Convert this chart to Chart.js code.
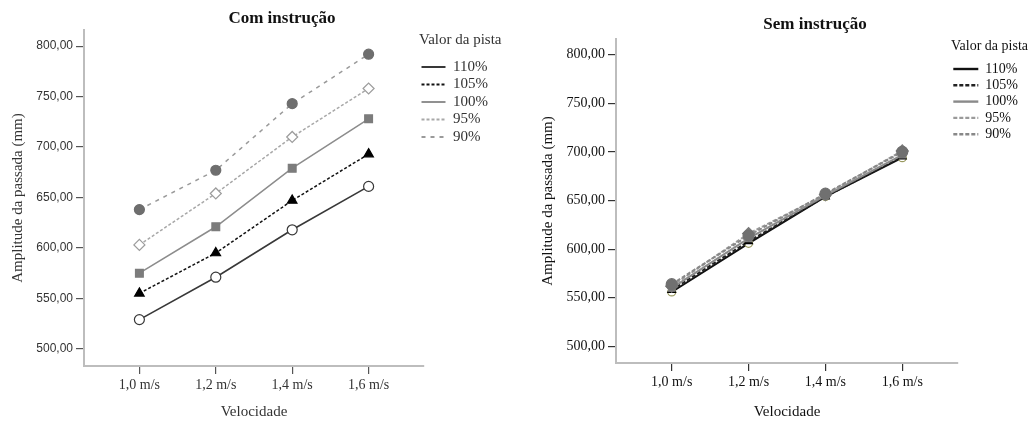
<!DOCTYPE html>
<html lang="pt">
<head>
<meta charset="utf-8">
<title>Amplitude da passada</title>
<script src="https://cdn.jsdelivr.net/npm/chart.js@4.4.1/dist/chart.umd.min.js"></script>
<style>
  html, body { margin: 0; padding: 0; background: #fff; }
  #wrap { position: relative; width: 1034px; height: 421px; overflow: hidden; }
  canvas { position: absolute; top: 0; }
  #comInstrucao { left: 0; }
  #semInstrucao { left: 520px; }
</style>
</head>
<body>
<div id="wrap">
  <canvas id="comInstrucao" width="520" height="421"></canvas>
  <canvas id="semInstrucao" width="514" height="421"></canvas>
</div>
<script>
var velocidades = [1.0, 1.2, 1.4, 1.6];
var categorias = ['1,0 m/s', '1,2 m/s', '1,4 m/s', '1,6 m/s'];
var pistas = ['110%', '105%', '100%', '95%', '90%'];
var marcasEixoY = [500, 550, 600, 650, 700, 750, 800];

// Com instrução (mm)
var com110 = [529, 571, 618, 661];
var com105 = [555, 595, 647, 693];
var com100 = [575, 621, 679, 728];
var com95 = [603, 654, 710, 758];
var com90 = [638, 677, 743, 792];

// Sem instrução (mm)
var sem110 = [556, 606, 654, 694];
var sem105 = [558, 608, 654, 695];
var sem100 = [560, 611, 655, 697];
var sem95 = [562, 616, 656, 701];
var sem90 = [564, 614, 657, 700];

var serif = "'Liberation Serif', 'Times New Roman', serif";
var sans = "'Liberation Sans', Arial, sans-serif";
Chart.defaults.font.family = serif;

var estilosCom = [
  { cor: '#383838', larg: 1.6, traco: [], marca: 'circle', raio: 5, fundo: '#fff', borda: '#383838' },
  { cor: '#111111', larg: 1.5, traco: [3, 2], marca: 'triangle', raio: 5.5, fundo: '#000', borda: '#000' },
  { cor: '#8c8c8c', larg: 1.5, traco: [], marca: 'rect', raio: 5.5, fundo: '#7c7c7c', borda: '#7c7c7c' },
  { cor: '#a8a8a8', larg: 1.5, traco: [3, 2], marca: 'rectRot', raio: 5.5, fundo: '#fff', borda: '#9c9c9c' },
  { cor: '#9a9a9a', larg: 1.5, traco: [4, 5], marca: 'circle', raio: 5, fundo: '#6e6e6e', borda: '#6e6e6e' }
];

var estilosSem = [
  { cor: '#111111', larg: 2, traco: [], marca: 'circle', raio: 4, fundo: '#fff', borda: '#9a9a60' },
  { cor: '#222222', larg: 2, traco: [4, 2], marca: 'triangle', raio: 4.5, fundo: '#000', borda: '#000' },
  { cor: '#8a8a8a', larg: 2, traco: [], marca: 'rect', raio: 4.5, fundo: '#808080', borda: '#808080' },
  { cor: '#9a9a9a', larg: 2, traco: [4, 2], marca: 'rectRot', raio: 6, fundo: '#7a7a7a', borda: '#7a7a7a' },
  { cor: '#888888', larg: 2, traco: [4, 2], marca: 'circle', raio: 5.5, fundo: '#707070', borda: '#707070' }
];

function pontos(valores) {
  return velocidades.map(function (v, i) { return { x: v, y: valores[i] }; });
}

function formatarMm(v) {
  return Number(v).toFixed(2).replace('.', ',');
}

// SPSS puts the title a bit right of the plot centre and lets the legend overlap the axis end
var ajusteSPSS = {
  id: 'ajusteSPSS',
  afterLayout: function (chart, args, opts) {
    var area = chart.chartArea;
    var t = chart.titleBlock;
    var meio = (area.left + area.right) / 2 + opts.tituloDx;
    var w = t.right - t.left;
    t.left = meio - w / 2;
    t.right = meio + w / 2;
    var lg = chart.legend;
    lg.left = area.right + opts.legendaDx;
    lg.right = chart.width;
    lg.width = lg.right - lg.left;
  }
};

function criarGrafico(id, p) {
  var eixoComum = function (extra) {
    return Object.assign({
      grid: { drawOnChartArea: false, drawTicks: true, tickLength: 8, color: p.corMarca, lineWidth: 1.2 },
      border: { display: true, color: '#bdbdbd', width: 2 }
    }, extra);
  };

  return new Chart(document.getElementById(id), {
    type: 'line',
    data: {
      datasets: p.series.map(function (valores, i) {
        var e = p.estilos[i];
        return {
          label: pistas[i],
          data: pontos(valores),
          borderColor: e.cor,
          borderWidth: e.larg,
          borderDash: e.traco,
          pointStyle: e.marca,
          pointRadius: e.raio,
          pointBackgroundColor: e.fundo,
          pointBorderColor: e.borda,
          pointBorderWidth: 1.2,
          tension: 0,
          fill: false,
          order: p.series.length - i
        };
      })
    },
    plugins: [ajusteSPSS],
    options: {
      responsive: false,
      animation: false,
      layout: { padding: { left: 0, right: p.direita, top: 0, bottom: 0 } },
      plugins: {
        ajusteSPSS: { tituloDx: 28, legendaDx: p.legendaDx },
        tooltip: { enabled: false },
        title: {
          display: true,
          text: p.titulo,
          color: '#111',
          font: { family: serif, size: 17, weight: 'bold' },
          padding: p.tituloPad
        },
        legend: {
          position: 'right',
          align: 'start',
          fullSize: false,
          maxWidth: 60,
          title: {
            display: true,
            text: 'Valor da pista',
            position: 'start',
            color: p.corTexto,
            font: { family: serif, size: p.legTitulo },
            padding: p.legPad
          },
          labels: {
            usePointStyle: true,
            pointStyleWidth: p.linhaLeg,
            padding: p.legEsp,
            color: p.corTexto,
            font: { family: serif, size: p.legFonte },
            generateLabels: function (chart) {
              return chart.data.datasets.map(function (ds, i) {
                return {
                  text: ds.label,
                  datasetIndex: i,
                  pointStyle: 'line',
                  strokeStyle: ds.borderColor,
                  fillStyle: ds.borderColor,
                  lineWidth: ds.borderWidth + 0.4,
                  lineDash: ds.borderDash,
                  fontColor: p.corTexto,
                  hidden: false
                };
              });
            }
          }
        }
      },
      scales: {
        x: eixoComum({
          type: 'linear',
          min: 0.855,
          max: 1.745,
          afterBuildTicks: function (s) {
            s.ticks = velocidades.map(function (v) { return { value: v }; });
          },
          afterFit: function (s) { s.height = p.alturaX; },
          ticks: {
            autoSkip: false,
            maxRotation: 0,
            padding: 3,
            color: p.corTexto,
            font: { family: serif, size: 14 },
            callback: function (v, i) { return categorias[i]; }
          },
          title: {
            display: true,
            text: 'Velocidade',
            color: p.corTexto,
            font: { family: serif, size: 15 },
            padding: { top: 0, bottom: 0 }
          }
        }),
        y: eixoComum({
          min: 483,
          max: 816,
          afterBuildTicks: function (s) {
            s.ticks = marcasEixoY.map(function (v) { return { value: v }; });
          },
          afterFit: function (s) { s.width = p.larguraY; },
          ticks: {
            padding: 3,
            color: p.corTexto,
            font: p.fonteY,
            callback: formatarMm
          },
          title: {
            display: true,
            text: 'Amplitude da passada (mm)',
            color: p.corTexto,
            font: { family: serif, size: 15 },
            padding: { top: p.yTituloPad, bottom: 0 }
          }
        })
      }
    }
  });
}

criarGrafico('comInstrucao', {
  titulo: 'Com instrução',
  series: [com110, com105, com100, com95, com90],
  estilos: estilosCom,
  direita: 36,
  legendaDx: -5,
  tituloPad: { top: 8.8, bottom: 0.8 },
  corTexto: '#333',
  corMarca: '#555',
  legTitulo: 15,
  legFonte: 15,
  legPad: { top: 2.5, bottom: 6.5 },
  legEsp: 2.5,
  linhaLeg: 24,
  alturaX: 55,
  larguraY: 84,
  yTituloPad: 9,
  fonteY: { family: sans, size: 12 }
});

criarGrafico('semInstrucao', {
  titulo: 'Sem instrução',
  series: [sem110, sem105, sem100, sem95, sem90],
  estilos: estilosSem,
  direita: 16,
  legendaDx: -7,
  tituloPad: { top: 14.8, bottom: 3.8 },
  corTexto: '#111',
  corMarca: '#333',
  legTitulo: 14,
  legFonte: 14,
  legPad: { top: 0, bottom: 3.9 },
  legEsp: 2.3,
  linhaLeg: 25,
  alturaX: 58,
  larguraY: 96,
  yTituloPad: 19,
  fonteY: { family: serif, size: 14 }
});
</script>
</body>
</html>
